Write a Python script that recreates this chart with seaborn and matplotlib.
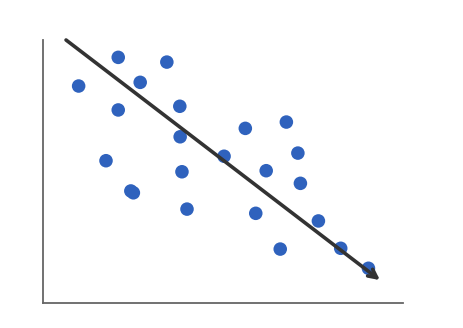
import matplotlib
matplotlib.use("Agg")
import matplotlib.pyplot as plt
import seaborn as sns
import pandas as pd

# data (arbitrary units)
x_vals = [0.99, 2.09, 2.70, 3.44, 2.09, 3.80, 3.81, 1.75, 2.44, 2.51, 3.86, 4.00,
          5.03, 5.62, 6.76, 7.08, 6.20, 7.15, 5.91, 7.65, 6.59, 8.27, 9.04]
y_vals = [8.25, 9.34, 8.39, 9.16, 7.34, 7.48, 6.32, 5.41, 4.26, 4.19, 4.99, 3.57,
          5.58, 6.64, 6.88, 5.70, 5.03, 4.55, 3.41, 3.12, 2.05, 2.08, 1.32]
trend_x = [0.64, 9.36]
trend_y = [10.0, 0.87]

df = pd.DataFrame({"x": x_vals, "y": y_vals})

sns.set_style("white")
fig = plt.figure(figsize=(4.63, 3.28), dpi=100)
ax = fig.add_axes([43/463, 25/328, 360/463, 263/328])

sns.scatterplot(data=df, x="x", y="y", ax=ax, s=95, color="#2F62BD",
                edgecolor="none", zorder=2)

ax.annotate("", xy=(trend_x[1], trend_y[1]), xytext=(trend_x[0], trend_y[0]),
            arrowprops=dict(arrowstyle="->,head_length=0.6,head_width=0.3",
                            color="#333333", lw=2.6, shrinkA=0, shrinkB=0),
            zorder=3)

ax.set_xlim(0, 10)
ax.set_ylim(0, 10)
ax.set_xticks([])
ax.set_yticks([])
ax.set_xlabel("")
ax.set_ylabel("")
for side in ["top", "right"]:
    ax.spines[side].set_visible(False)
for side in ["left", "bottom"]:
    ax.spines[side].set_color("#666666")
    ax.spines[side].set_linewidth(1.3)

fig.savefig("out.png", dpi=100)
